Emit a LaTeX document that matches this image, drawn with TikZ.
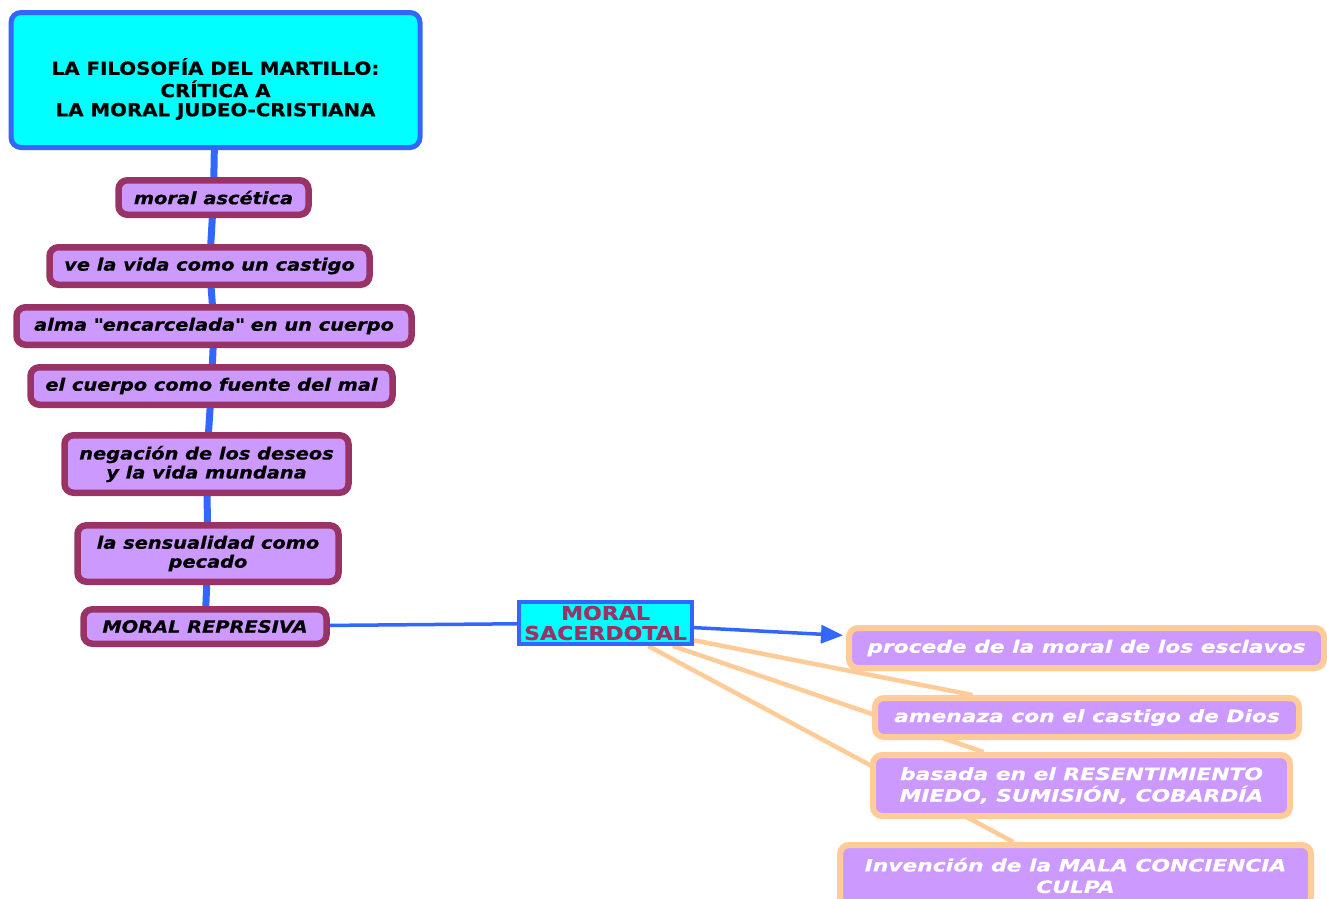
\documentclass[tikz,border=0pt]{standalone}
\usepackage{fontspec}
\setmainfont{DejaVu Sans}[FakeStretch=1.14, BoldFeatures={FakeBold=0.6}, BoldItalicFeatures={FakeBold=0.6}]
\newfontfamily\titleface{DejaVu Sans}[FakeStretch=1.1, BoldFeatures={FakeBold=0.6}]
\newfontfamily\wideface{DejaVu Sans}[FakeStretch=1.16, BoldFeatures={FakeBold=0.6}]
\newfontfamily\leafface{DejaVu Sans}[FakeStretch=1.28, BoldItalicFeatures={FakeBold=0.6}]
\usetikzlibrary{arrows.meta,backgrounds}
\definecolor{cyanfill}{HTML}{00FFFF}
\definecolor{linkblue}{HTML}{3366FF}
\definecolor{lilac}{HTML}{CC99FF}
\definecolor{plum}{HTML}{993366}
\definecolor{peach}{HTML}{FFCC99}
\begin{document}
\begin{tikzpicture}[x=1pt,y=-1pt,
	topic/.style={draw=linkblue, fill=cyanfill, line width=5pt, rounded corners=10pt, inner sep=0pt, align=center,
		font=\titleface\fontsize{18}{19}\selectfont\bfseries},
	idea/.style={draw=plum, fill=lilac, line width=6.5pt, rounded corners=9pt, inner sep=0pt, align=center,
		font=\fontsize{17}{19}\selectfont\bfseries\itshape},
	leaf/.style={draw=peach, fill=lilac, text=white, line width=6pt, rounded corners=9pt, inner sep=0pt, align=center,
		font=\leafface\fontsize{17}{21.5}\selectfont\bfseries\itshape},
	link/.style={linkblue, line width=7pt},
	thread/.style={peach, line width=4.5pt}]
	\useasboundingbox (0,0) rectangle (1327,898);
	% left column
	\node[topic, minimum width=409, minimum height=135] (title) at (215.5,80)
		{\raisebox{-10pt}[\height][\depth]{\begin{tabular}{@{}c@{}}LA FILOSOFÍA DEL MARTILLO:\\CRÍTICA A\\LA MORAL JUDEO-CRISTIANA\end{tabular}}};
	\node[idea, minimum width=190, minimum height=34.5] (asc) at (213.5,197.5) {moral ascética};
	\node[idea, minimum width=320, minimum height=37.5] (vida) at (209.5,266) {ve la vida como un castigo};
	\node[idea, minimum width=395, minimum height=37.5] (alma) at (214,326) {alma \textquotedbl encarcelada\textquotedbl{} en un cuerpo};
	\node[idea, minimum width=362, minimum height=37.5] (cuerpo) at (211.5,386) {el cuerpo como fuente del mal};
	\node[idea, minimum width=284, minimum height=57.5] (neg) at (206.5,464) {negación de los deseos\\y la vida mundana};
	\node[idea, minimum width=261, minimum height=56.5] (sens) at (208,553.5) {la sensualidad como\\pecado};
	\node[idea, minimum width=243, minimum height=34.5] (repr) at (205,626.5) {MORAL REPRESIVA};
	% centre
	\node[draw=linkblue, fill=cyanfill, line width=4pt, inner sep=0pt, align=center, text=plum,
		font=\wideface\fontsize{19}{20}\selectfont\bfseries, minimum width=173, minimum height=42] (sac) at (605.5,623) {MORAL\\SACERDOTAL};
	% right side
	\node[leaf, minimum width=475, minimum height=40] (proc) at (1086.5,648) {procede de la moral de los esclavos};
	\node[leaf, minimum width=424, minimum height=39] (amen) at (1087,717.5) {amenaza con el castigo de Dios};
	\node[leaf, minimum width=417, minimum height=61] (bas) at (1081.5,785.5) {basada en el RESENTIMIENTO\\MIEDO, SUMISIÓN, COBARDÍA};
	\node[leaf, minimum width=471, minimum height=61] (inv) at (1075.5,875.5) {Invención de la MALA CONCIENCIA\\CULPA};
	\begin{scope}[on background layer]
		\draw[link] (title) -- (asc) -- (vida) -- (alma) -- (cuerpo) -- (neg) -- (sens) -- (repr);
		\draw[linkblue, line width=3.5pt] (repr) -- (sac);
		\draw[linkblue, line width=3.5pt, -{Triangle[length=22pt,width=18pt]}, shorten >=3pt] (sac) -- (proc);
		\draw[thread] (sac) -- (amen);
		\draw[thread] (sac) -- (bas);
		\draw[thread] (sac) -- (inv);
	\end{scope}
\end{tikzpicture}
\end{document}
